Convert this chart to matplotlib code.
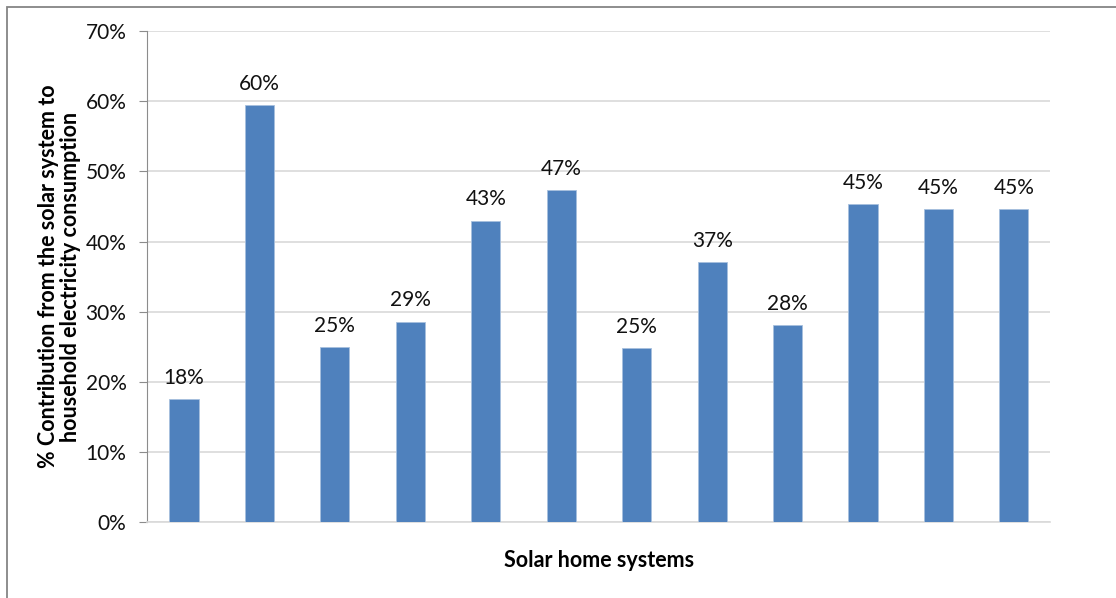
import numpy as np
import matplotlib.pyplot as plt
from matplotlib.patches import Rectangle
from matplotlib.ticker import PercentFormatter

plt.rcParams['font.family'] = ['Lato', 'DejaVu Sans']

# share of household consumption covered by each solar home system (%)
systems = [f"SHS {i}" for i in range(1, 13)]
contribution = [17.5, 59.5, 24.9, 28.6, 43.0, 47.3, 24.8, 37.1, 28.1, 45.4, 44.6, 44.6]
yticks = [0, 10, 20, 30, 40, 50, 60, 70]

W, H = 1116, 598
fig = plt.figure(figsize=(W / 100, H / 100), dpi=100)
ax = fig.add_axes([147.3 / W, 1 - 522 / H, (1050 - 147.3) / W, (522 - 31.3) / H])

# thin frame around the chart area
fig.patches.append(Rectangle((7 / W, -0.05), 1.2, 1 - 7 / H + 0.05,
                             transform=fig.transFigure, fill=False,
                             edgecolor='#858585', linewidth=1.3))

x = np.arange(len(systems))
ax.bar(x, contribution, width=0.386, color='#4f81bd',
       edgecolor='#a7c0de', linewidth=0.6, zorder=3)

for xi, v in zip(x, contribution):
    ax.text(xi, v + 1.6, f"{v:.0f}%", ha='center', va='bottom',
            fontsize=15, color='#111111')

ax.set_xlim(-0.4865, len(systems) - 0.522)
ax.set_ylim(0, 70)
ax.set_yticks(yticks)
ax.yaxis.set_major_formatter(PercentFormatter(decimals=0))
ax.set_xticks([])
ax.tick_params(axis='y', length=6, color='#8c8c8c', labelsize=15,
               labelcolor='#111111', pad=9)
ax.grid(axis='y', color='#d9d9d9', linewidth=1.2, zorder=0)

for side in ('top', 'right'):
    ax.spines[side].set_visible(False)
ax.spines['left'].set_color('#8c8c8c')
ax.spines['bottom'].set_color('#d9d9d9')
ax.spines['bottom'].set_linewidth(1.2)

ax.set_xlabel('Solar home systems', fontsize=15.5, fontweight='bold',
              labelpad=20)
ax.set_ylabel('% Contribution from the solar system to\nhousehold electricity consumption',
              fontsize=15.5, fontweight='bold', labelpad=3, linespacing=1.1)

fig.savefig('out.png', dpi=100)
